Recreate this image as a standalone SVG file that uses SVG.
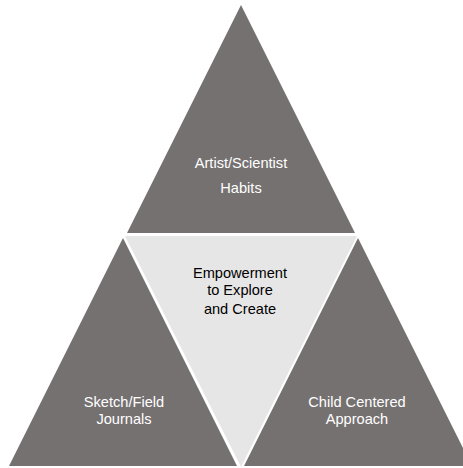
<svg xmlns="http://www.w3.org/2000/svg" width="463" height="468" viewBox="0 0 463 468">
<style>
.dark{fill:#767171}
.light{fill:#E7E6E6}
text{font-family:"Liberation Sans",Arial,sans-serif;font-size:14.6px;text-anchor:middle}
.w{fill:#FFFFFF}
.b{fill:#000000}
</style>
<rect width="463" height="468" fill="#FFFFFF"/>
<g id="top">
<polygon class="dark" points="241,5 355,233 127,233"/>
<text class="w" x="241" y="168">Artist/Scientist</text>
<text class="w" x="241" y="193">Habits</text>
</g>
<g id="center">
<polygon class="light" points="125,236 357,236 241,467"/>
<text class="b" x="240" y="278">Empowerment</text>
<text class="b" x="240" y="295">to Explore</text>
<text class="b" x="240" y="314">and Create</text>
</g>
<g id="left">
<polygon class="dark" points="123,238 237,466 9,466"/>
<text class="w" x="124" y="407">Sketch/Field</text>
<text class="w" x="124" y="424">Journals</text>
</g>
<g id="right">
<polygon class="dark" points="358,238 472,466 244,466"/>
<text class="w" x="357" y="407">Child Centered</text>
<text class="w" x="357" y="424">Approach</text>
</g>
<g id="connectors"></g>
</svg>
